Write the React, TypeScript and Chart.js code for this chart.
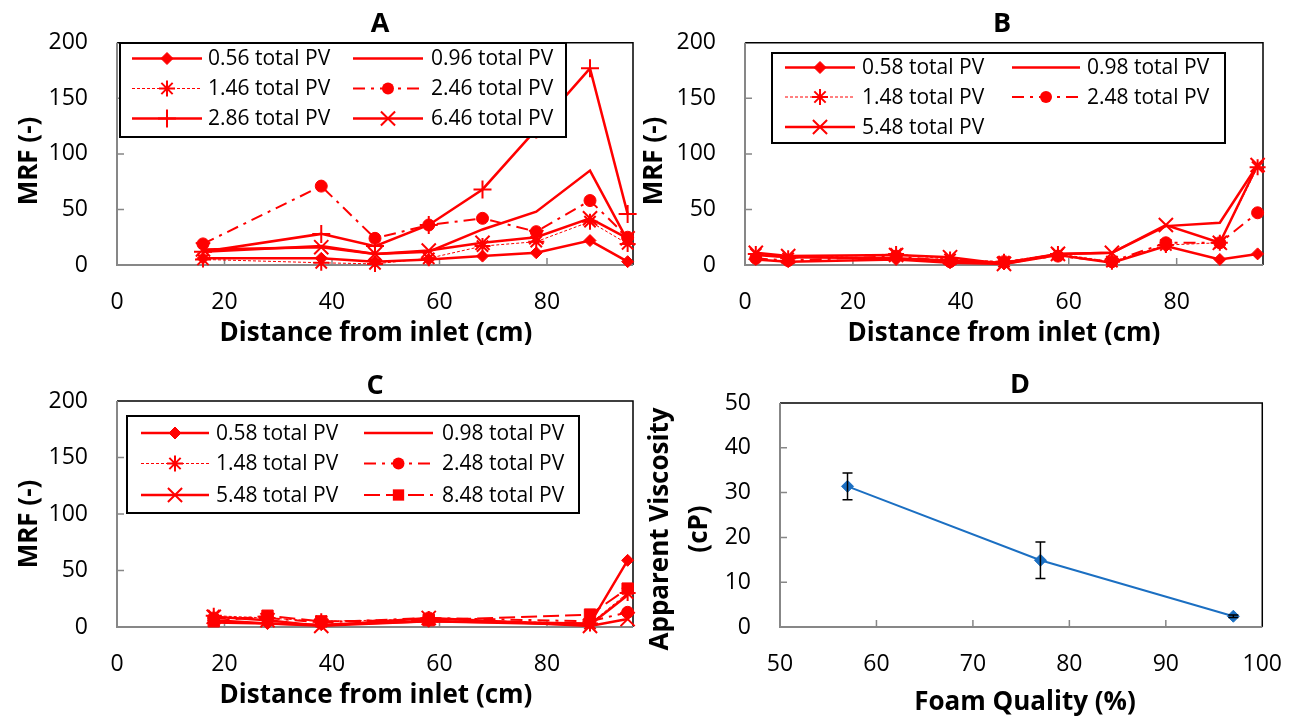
import React, { useEffect, useRef } from 'react';
import { Chart, registerables } from 'chart.js';

Chart.register(...registerables);

const FONT = '"Open Sans", "DejaVu Sans", sans-serif';
const RED = '#ff0000';
const BLUE = '#1b6fc2';
const AXIS_GRAY = '#878787';

// ---------- Panel A ----------
const distA = [16, 38, 48, 58, 68, 78, 88, 95];
const mrfA056 = [6, 6, 3, 5, 8, 11, 22, 3];
const mrfA096 = [12, 17, 10, 12, 32, 48, 85, 22];
const mrfA146 = [5, 2, 1, 6, 17, 21, 39, 19];
const mrfA246 = [19, 71, 24, 36, 42, 30, 58, 25];
const mrfA286 = [12, 28, 17, 36, 68, 122, 177, 46];
const mrfA646 = [14, 16, 10, 13, 20, 25, 42, 24];

// ---------- Panel B ----------
const distB = [2, 8, 28, 38, 48, 58, 68, 78, 88, 95];
const mrfB058 = [5, 3, 5, 2, 1, 9, 2, 17, 5, 10];
const mrfB098 = [9, 7, 6, 4, 2, 10, 11, 35, 38, 90];
const mrfB148 = [10, 6, 10, 5, 3, 10, 3, 18, 20, 88];
const mrfB248 = [6, 4, 8, 3, 3, 8, 3, 20, 20, 47];
const mrfB548 = [11, 8, 9, 7, 1, 10, 11, 36, 20, 90];

// ---------- Panel C ----------
const distC = [18, 28, 38, 58, 88, 95];
const mrfC058 = [6, 3, 2, 5, 3, 59];
const mrfC098 = [4, 3, 1, 5, 2, 28];
const mrfC148 = [10, 8, 5, 7, 3, 30];
const mrfC248 = [8, 8, 4, 8, 5, 13];
const mrfC548 = [9, 6, 1, 8, 1, 7];
const mrfC848 = [5, 10, 5, 6, 11, 34];

// ---------- Panel D ----------
const foamQuality = [57, 77, 97];
const viscosity = [31.4, 14.9, 2.4];
const viscosityErr = [3.0, 4.1, 0.3];

// ---------- Ticks ----------
const distTicks = [0, 20, 40, 60, 80];
const mrfTicks = [0, 50, 100, 150, 200];
const foamTicks = [50, 60, 70, 80, 90, 100];
const viscTicks = [0, 10, 20, 30, 40, 50];

type Kind = 'diamond' | 'plain' | 'star' | 'circle' | 'plus' | 'x' | 'square' | 'blue';

const MARK: Record<Kind, { ps: string; r: number; pw: number; dash: number[]; lw: number; color: string }> = {
  diamond: { ps: 'rectRot', r: 6, pw: 1, dash: [], lw: 2.5, color: RED },
  plain: { ps: 'circle', r: 0, pw: 0, dash: [], lw: 2.5, color: RED },
  star: { ps: 'star', r: 8, pw: 2, dash: [3, 2], lw: 1, color: RED },
  circle: { ps: 'circle', r: 6, pw: 1, dash: [12, 6, 3, 6], lw: 2, color: RED },
  plus: { ps: 'cross', r: 9, pw: 2, dash: [], lw: 2.5, color: RED },
  x: { ps: 'crossRot', r: 10, pw: 2, dash: [], lw: 2.5, color: RED },
  square: { ps: 'rect', r: 8, pw: 1, dash: [16, 6], lw: 2, color: RED },
  blue: { ps: 'rectRot', r: 6, pw: 1, dash: [], lw: 2, color: BLUE },
};

type Series = { label: string; kind: Kind; xs: number[]; ys: number[] };
type Txt = { text: string; x: number; y: number; size: number; rot?: boolean };
type LegendSpec = { box: [number, number, number, number]; rows: number[]; cols: [number, number, number][] };
type PanelSpec = {
  canvas: [number, number, number, number];
  plot: [number, number, number, number];
  series: Series[];
  xRange: [number, number];
  yRange: [number, number];
  xTicks: number[];
  yTicks: number[];
  legend?: LegendSpec;
  texts: Txt[];
  errors?: number[];
};

function drawMarker(ctx: CanvasRenderingContext2D, kind: Kind, x: number, y: number) {
  const m = MARK[kind];
  if (!m.r) return;
  const r = m.r;
  ctx.save();
  ctx.setLineDash([]);
  ctx.fillStyle = m.color;
  ctx.strokeStyle = m.color;
  ctx.lineWidth = m.pw;
  ctx.beginPath();
  const d = r * Math.SQRT1_2;
  if (m.ps === 'rectRot') {
    ctx.moveTo(x - r, y); ctx.lineTo(x, y - r); ctx.lineTo(x + r, y); ctx.lineTo(x, y + r); ctx.closePath();
    ctx.fill(); ctx.stroke();
  } else if (m.ps === 'circle') {
    ctx.arc(x, y, r, 0, Math.PI * 2); ctx.fill();
  } else if (m.ps === 'rect') {
    ctx.rect(x - d, y - d, 2 * d, 2 * d); ctx.fill();
  } else {
    if (m.ps === 'cross' || m.ps === 'star') {
      ctx.moveTo(x - r, y); ctx.lineTo(x + r, y); ctx.moveTo(x, y - r); ctx.lineTo(x, y + r);
    }
    if (m.ps === 'crossRot' || m.ps === 'star') {
      ctx.moveTo(x - d, y - d); ctx.lineTo(x + d, y + d); ctx.moveTo(x + d, y - d); ctx.lineTo(x - d, y + d);
    }
    ctx.stroke();
  }
  ctx.restore();
}

function makeDataset(s: Series) {
  const m = MARK[s.kind];
  return {
    label: s.label,
    data: s.xs.map((x, i) => ({ x, y: s.ys[i] })),
    borderColor: m.color,
    backgroundColor: m.color,
    borderWidth: m.lw,
    borderDash: m.dash,
    pointStyle: m.ps,
    pointRadius: m.r,
    pointHoverRadius: m.r,
    pointBorderWidth: m.pw,
    pointBackgroundColor: m.color,
    pointBorderColor: m.color,
    tension: 0,
    fill: false,
    clip: false,
  };
}

function buildChart(canvas: HTMLCanvasElement, spec: PanelSpec) {
  const [cl, ct, cw, ch] = spec.canvas;
  const [pl, pt, pr, pb] = spec.plot;
  const X = (x: number) => x - cl;
  const Y = (y: number) => y - ct;

  const framePlugin = {
    id: 'frame',
    beforeDatasetsDraw(chart: any) {
      const { ctx, chartArea: a, scales } = chart;
      ctx.save();
      ctx.setLineDash([]);
      ctx.strokeStyle = '#000';
      ctx.lineWidth = 1.5;
      ctx.beginPath();
      ctx.moveTo(a.left, a.top); ctx.lineTo(a.right, a.top); ctx.lineTo(a.right, a.bottom);
      ctx.stroke();
      ctx.strokeStyle = AXIS_GRAY;
      ctx.lineWidth = 2;
      ctx.beginPath();
      ctx.moveTo(a.left, a.top); ctx.lineTo(a.left, a.bottom); ctx.lineTo(a.right, a.bottom);
      ctx.stroke();
      ctx.lineWidth = 1.5;
      ctx.beginPath();
      for (const v of spec.xTicks) {
        const px = scales.x.getPixelForValue(v);
        if (px > a.left + 2 && px < a.right - 2) { ctx.moveTo(px, a.bottom); ctx.lineTo(px, a.bottom - 7); }
      }
      for (const v of spec.yTicks) {
        const py = scales.y.getPixelForValue(v);
        if (py > a.top + 2 && py < a.bottom - 2) { ctx.moveTo(a.left, py); ctx.lineTo(a.left + 7, py); }
      }
      ctx.stroke();
      ctx.restore();
    },
  };

  const extrasPlugin = {
    id: 'extras',
    afterDatasetsDraw(chart: any) {
      const { ctx, scales } = chart;
      if (spec.errors) {
        ctx.save();
        ctx.strokeStyle = '#000';
        ctx.lineWidth = 1.5;
        ctx.setLineDash([]);
        const s = spec.series[0];
        s.xs.forEach((x, i) => {
          const e = spec.errors![i];
          const px = scales.x.getPixelForValue(x);
          const top = scales.y.getPixelForValue(s.ys[i] + e);
          const bot = scales.y.getPixelForValue(s.ys[i] - e);
          ctx.beginPath();
          ctx.moveTo(px, top); ctx.lineTo(px, bot);
          ctx.moveTo(px - 5, top); ctx.lineTo(px + 5, top);
          ctx.moveTo(px - 5, bot); ctx.lineTo(px + 5, bot);
          ctx.stroke();
        });
        ctx.restore();
      }
      if (spec.legend) {
        const L = spec.legend;
        const [bx1, by1, bx2, by2] = L.box;
        ctx.save();
        ctx.fillStyle = '#fff';
        ctx.fillRect(X(bx1), Y(by1), bx2 - bx1, by2 - by1);
        ctx.strokeStyle = '#000';
        ctx.lineWidth = 2;
        ctx.setLineDash([]);
        ctx.strokeRect(X(bx1), Y(by1), bx2 - bx1, by2 - by1);
        spec.series.forEach((s, i) => {
          const row = Math.floor(i / 2);
          const col = i % 2;
          const y = Y(L.rows[row]);
          const [s0, s1, tx] = L.cols[col];
          const m = MARK[s.kind];
          ctx.strokeStyle = m.color;
          ctx.lineWidth = m.lw;
          ctx.setLineDash(m.dash);
          ctx.beginPath();
          ctx.moveTo(X(s0), y); ctx.lineTo(X(s1), y);
          ctx.stroke();
          ctx.setLineDash([]);
          drawMarker(ctx, s.kind, X((s0 + s1) / 2), y);
          ctx.fillStyle = '#000';
          ctx.font = `21px ${FONT}`;
          ctx.textAlign = 'left';
          ctx.textBaseline = 'middle';
          ctx.fillText(s.label, X(tx), y + 1);
        });
        ctx.restore();
      }
    },
    afterDraw(chart: any) {
      const { ctx } = chart;
      spec.texts.forEach((t) => {
        ctx.save();
        ctx.font = `bold ${t.size}px ${FONT}`;
        ctx.fillStyle = '#000';
        ctx.textAlign = 'center';
        ctx.textBaseline = 'middle';
        ctx.translate(X(t.x), Y(t.y));
        if (t.rot) ctx.rotate(-Math.PI / 2);
        ctx.fillText(t.text, 0, 0);
        ctx.restore();
      });
    },
  };

  const tickFont = { family: FONT, size: 23 };

  return new Chart(canvas, {
    type: 'line',
    data: { datasets: spec.series.map(makeDataset) as any },
    options: {
      animation: false,
      responsive: false,
      devicePixelRatio: 1,
      layout: { padding: { left: 0, top: pt - ct, right: cl + cw - pr, bottom: 0 } },
      plugins: { legend: { display: false }, tooltip: { enabled: false }, title: { display: false } },
      scales: {
        x: {
          type: 'linear',
          min: spec.xRange[0],
          max: spec.xRange[1],
          grid: { display: false, drawTicks: false },
          border: { display: false },
          ticks: { padding: 24, font: tickFont, color: '#000', maxRotation: 0, autoSkip: false },
          afterBuildTicks: (s: any) => { s.ticks = spec.xTicks.map((v) => ({ value: v })); },
          afterFit: (s: any) => { s.height = ct + ch - pb; },
        },
        y: {
          type: 'linear',
          min: spec.yRange[0],
          max: spec.yRange[1],
          grid: { display: false, drawTicks: false },
          border: { display: false },
          ticks: { padding: 29, font: tickFont, color: '#000', autoSkip: false },
          afterBuildTicks: (s: any) => { s.ticks = spec.yTicks.map((v) => ({ value: v })); },
          afterFit: (s: any) => { s.width = pl - cl; },
        },
      },
    } as any,
    plugins: [framePlugin, extrasPlugin],
  });
}

const specA: PanelSpec = {
  canvas: [0, 0, 645, 345],
  plot: [117, 38, 637, 265],
  series: [
    { label: '0.56 total PV', kind: 'diamond', xs: distA, ys: mrfA056 },
    { label: '0.96 total PV', kind: 'plain', xs: distA, ys: mrfA096 },
    { label: '1.46 total PV', kind: 'star', xs: distA, ys: mrfA146 },
    { label: '2.46 total PV', kind: 'circle', xs: distA, ys: mrfA246 },
    { label: '2.86 total PV', kind: 'plus', xs: distA, ys: mrfA286 },
    { label: '6.46 total PV', kind: 'x', xs: distA, ys: mrfA646 },
  ],
  xRange: [0, 96],
  yRange: [0, 200],
  xTicks: distTicks,
  yTicks: mrfTicks,
  legend: { box: [120, 43, 566, 137], rows: [58.5, 88.5, 118.5], cols: [[132, 202, 208], [353, 423, 431]] },
  texts: [
    { text: 'A', x: 380, y: 24, size: 27 },
    { text: 'MRF (-)', x: 30, y: 161, size: 26, rot: true },
    { text: 'Distance from inlet (cm)', x: 376, y: 334, size: 26 },
  ],
};

const specB: PanelSpec = {
  canvas: [640, 0, 666, 345],
  plot: [745, 38, 1263, 265],
  series: [
    { label: '0.58 total PV', kind: 'diamond', xs: distB, ys: mrfB058 },
    { label: '0.98 total PV', kind: 'plain', xs: distB, ys: mrfB098 },
    { label: '1.48 total PV', kind: 'star', xs: distB, ys: mrfB148 },
    { label: '2.48 total PV', kind: 'circle', xs: distB, ys: mrfB248 },
    { label: '5.48 total PV', kind: 'x', xs: distB, ys: mrfB548 },
  ],
  xRange: [0, 96],
  yRange: [0, 200],
  xTicks: distTicks,
  yTicks: mrfTicks,
  legend: { box: [772, 53, 1225, 143], rows: [67.5, 97, 127], cols: [[785, 855, 862], [1012, 1080, 1087]] },
  texts: [
    { text: 'B', x: 1002, y: 24, size: 27 },
    { text: 'MRF (-)', x: 655, y: 161, size: 26, rot: true },
    { text: 'Distance from inlet (cm)', x: 1004, y: 334, size: 26 },
  ],
};

const specC: PanelSpec = {
  canvas: [0, 355, 645, 364],
  plot: [117, 401, 637, 627],
  series: [
    { label: '0.58 total PV', kind: 'diamond', xs: distC, ys: mrfC058 },
    { label: '0.98 total PV', kind: 'plain', xs: distC, ys: mrfC098 },
    { label: '1.48 total PV', kind: 'star', xs: distC, ys: mrfC148 },
    { label: '2.48 total PV', kind: 'circle', xs: distC, ys: mrfC248 },
    { label: '5.48 total PV', kind: 'x', xs: distC, ys: mrfC548 },
    { label: '8.48 total PV', kind: 'square', xs: distC, ys: mrfC848 },
  ],
  xRange: [0, 96],
  yRange: [0, 200],
  xTicks: distTicks,
  yTicks: mrfTicks,
  legend: { box: [127, 416, 579, 513], rows: [433, 463.5, 495], cols: [[141, 209, 216], [364, 433, 442]] },
  texts: [
    { text: 'C', x: 375, y: 386, size: 27 },
    { text: 'MRF (-)', x: 30, y: 524, size: 26, rot: true },
    { text: 'Distance from inlet (cm)', x: 376, y: 696, size: 26 },
  ],
};

const specD: PanelSpec = {
  canvas: [640, 355, 666, 364],
  plot: [780, 403, 1270, 627],
  series: [{ label: 'Apparent viscosity', kind: 'blue', xs: foamQuality, ys: viscosity }],
  xRange: [50, 100],
  yRange: [0, 50],
  xTicks: foamTicks,
  yTicks: viscTicks,
  errors: viscosityErr,
  texts: [
    { text: 'D', x: 1020, y: 385, size: 27 },
    { text: 'Apparent Viscosity', x: 661, y: 529, size: 26, rot: true },
    { text: '(cP)', x: 700, y: 529, size: 26, rot: true },
    { text: 'Foam Quality (%)', x: 1025, y: 703, size: 26 },
  ],
};

function Panel({ spec }: { spec: PanelSpec }) {
  const ref = useRef<HTMLCanvasElement>(null);
  useEffect(() => {
    const chart = buildChart(ref.current!, spec);
    return () => chart.destroy();
  }, [spec]);
  const [l, t, w, h] = spec.canvas;
  return (
    <canvas
      ref={ref}
      width={w}
      height={h}
      style={{ position: 'absolute', left: l, top: t, width: w, height: h }}
    />
  );
}

export default function App() {
  return (
    <div style={{ position: 'absolute', left: 0, top: 0, width: 1306, height: 719, background: '#fff', overflow: 'hidden' }}>
      <Panel spec={specA} />
      <Panel spec={specB} />
      <Panel spec={specC} />
      <Panel spec={specD} />
    </div>
  );
}
